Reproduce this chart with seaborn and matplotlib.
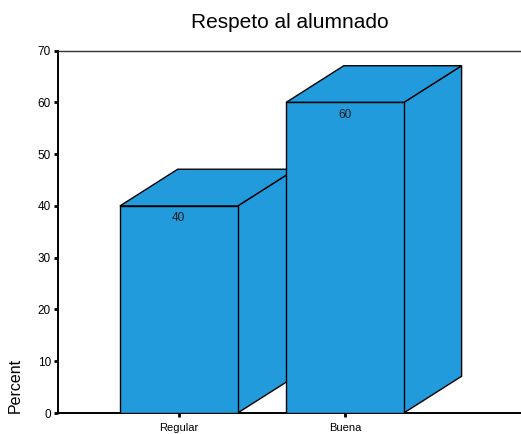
import pandas as pd
import matplotlib
matplotlib.use("Agg")
import matplotlib.pyplot as plt
from matplotlib.patches import Polygon
import seaborn as sns

categories = ["Regular", "Buena"]
percents = [40, 60]
title = "Respeto al alumnado"

sns.set_style("white")
plt.rcParams["font.family"] = ["Liberation Sans", "DejaVu Sans"]
plt.rcParams["text.color"] = "black"
plt.rcParams["axes.labelcolor"] = "black"
plt.rcParams["xtick.color"] = "black"
plt.rcParams["ytick.color"] = "black"

bar_color = "#229bdd"
depth_x = 0.348   # depth offset in category units
depth_y = 7.1     # depth offset in percent units

df = pd.DataFrame({"cat": categories, "pct": percents})

fig = plt.figure(figsize=(5.21, 4.34), dpi=100)
ax = fig.add_axes([58 / 521, 1 - 413 / 434, 1 - 58 / 521, (413 - 50.7) / 434])

sns.barplot(data=df, x="cat", y="pct", color=bar_color, saturation=1,
            width=0.709, edgecolor="black", linewidth=1, ax=ax)

# fake 3D: add top and side faces to each bar, later bars drawn over earlier
for i, p in enumerate(ax.patches):
    x0 = p.get_x()
    w = p.get_width()
    h = p.get_height()
    x1 = x0 + w
    z = 2 + 2 * i
    top = Polygon([(x0, h), (x1, h), (x1 + depth_x, h + depth_y), (x0 + depth_x, h + depth_y)],
                  closed=True, facecolor=bar_color, edgecolor="black", linewidth=1,
                  zorder=z, clip_on=False)
    side = Polygon([(x1, 0), (x1 + depth_x, depth_y), (x1 + depth_x, h + depth_y), (x1, h)],
                   closed=True, facecolor=bar_color, edgecolor="black", linewidth=1,
                   zorder=z, clip_on=False)
    ax.add_patch(side)
    ax.add_patch(top)
    p.set_zorder(z + 1)
    ax.text(x0 + w / 2, h - 2.4, str(percents[i]), ha="center", va="center",
            fontsize=8.5, color="#1a1a1a", zorder=z + 1)

ax.set_xlim(-0.727, 2.06)
ax.set_ylim(0, 70)
ax.set_yticks(range(0, 71, 10))
ax.tick_params(axis="both", which="major", length=3, width=2, color="black",
               labelcolor="black", labelsize=8.5, pad=2, left=True, bottom=True)
ax.tick_params(axis="x", labelsize=8, pad=4)
ax.set_xlabel("")
ax.set_ylabel("Percent", loc="bottom", fontsize=11.5, labelpad=11, color="black")
ax.set_title(title, fontsize=15, pad=16, color="black")

for s in ["left", "bottom"]:
    ax.spines[s].set_color("black")
    ax.spines[s].set_linewidth(1.4)
ax.spines["top"].set_color("#333333")
ax.spines["top"].set_linewidth(1)
ax.spines["right"].set_visible(False)

fig.savefig("out.png", dpi=100)
